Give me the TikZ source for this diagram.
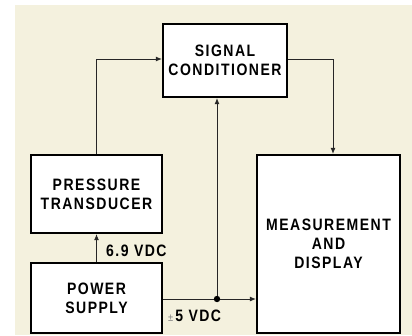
\documentclass[tikz,border=0pt]{standalone}
\usepackage{fontspec}
\setmainfont{Liberation Sans}[LetterSpace=9, FakeStretch=0.85]
\usetikzlibrary{arrows.meta}
\definecolor{paper}{HTML}{F4F1DE}
\tikzset{
  blk/.style={draw=black, line width=2.2pt, fill=white, inner sep=0pt, align=center, font=\fontsize{16.5}{19}\selectfont\bfseries},
  conn/.style={draw=black!85, line width=0.9pt, -{Latex[length=6pt,width=5pt]}},
  lbl/.style={font=\fontsize{16.5}{16.5}\selectfont\bfseries, inner sep=0pt}
}
\begin{document}
\begin{tikzpicture}[x=1pt,y=-1pt]
\useasboundingbox (0,0) rectangle (412,335);
\fill[paper] (15,5) rectangle (412,335);
\node[blk, minimum width=124pt, minimum height=73pt] (sig) at (225,60.5) {SIGNAL\\CONDITIONER};
\node[blk, minimum width=131pt, minimum height=78pt] (pt) at (96.5,194) {PRESSURE\\TRANSDUCER};
\node[blk, minimum width=131pt, minimum height=70pt] (ps) at (96.5,298) {POWER\\SUPPLY};
\node[blk, minimum width=143pt, minimum height=178pt] (md) at (328.5,244) {MEASUREMENT\\AND\\DISPLAY};
\coordinate (j) at (217,299);
\draw[conn] (pt.north) |- (sig.west |- 0,59);
\draw[conn] (sig.east |- 0,59) -| (md.north -| 333,0);
\draw[conn] (ps.north) -- (pt.south);
\draw[conn] (ps.east |- j) -- (md.west |- j);
\draw[conn] (j) -- (sig.south -| j);
\fill (j) circle (3.2pt);
\node[lbl, anchor=west] (v69) at (106,251) {6.9 VDC};
\node[lbl, anchor=west] (v5) at (168,316) {{\color{black!50}\mdseries\fontsize{11}{11}\selectfont ±}\hspace{2pt}5 VDC};
\end{tikzpicture}
\end{document}
